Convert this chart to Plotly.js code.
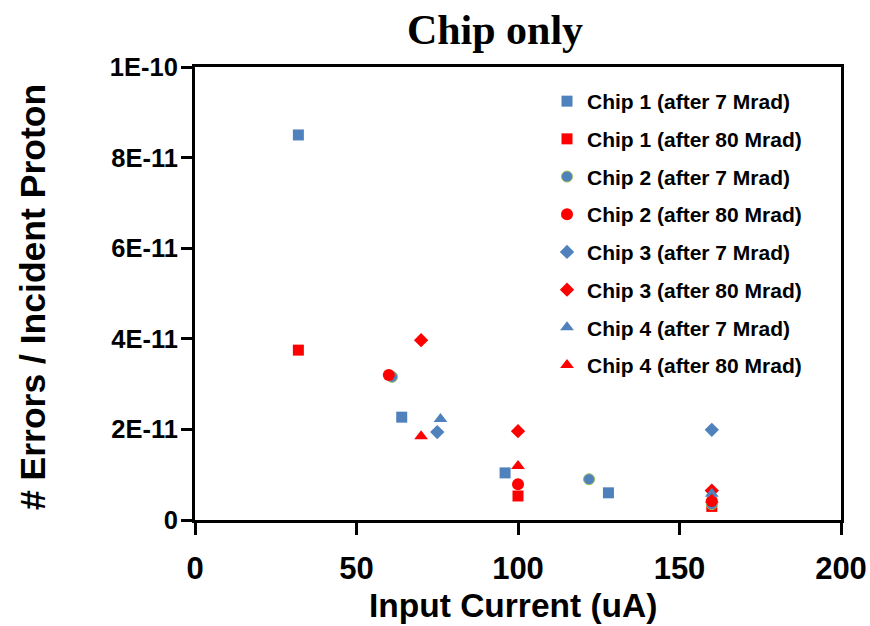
<!DOCTYPE html>
<html>
<head>
<meta charset="utf-8">
<script src="https://cdn.plot.ly/plotly-3.0.1.min.js"></script>
<style>
  html, body { margin: 0; padding: 0; background: #fff; }
  #chart { width: 870px; height: 626px; }
</style>
</head>
<body>
<div id="chart"></div>
<script>
// Input current (uA) and error rate per incident proton, per chip and dose
const chip1_7_x  = [32, 64, 96, 128];
const chip1_7_y  = [8.5e-11, 2.27e-11, 1.04e-11, 0.60e-11];
const chip1_80_x = [32, 100, 160];
const chip1_80_y = [3.75e-11, 0.53e-11, 0.30e-11];
const chip2_7_x  = [61, 122, 160];
const chip2_7_y  = [3.16e-11, 0.90e-11, 0.35e-11];
const chip2_80_x = [60, 100, 160];
const chip2_80_y = [3.20e-11, 0.79e-11, 0.42e-11];
const chip3_7_x  = [75, 160];
const chip3_7_y  = [1.94e-11, 1.99e-11];
const chip3_80_x = [70, 100, 160];
const chip3_80_y = [3.97e-11, 1.96e-11, 0.65e-11];
const chip4_7_x  = [76, 160];
const chip4_7_y  = [2.23e-11, 0.58e-11];
const chip4_80_x = [70, 100, 160];
const chip4_80_y = [1.85e-11, 1.19e-11, 0.45e-11];

const seriesNames = [
  'Chip 1 (after 7 Mrad)', 'Chip 1 (after 80 Mrad)',
  'Chip 2 (after 7 Mrad)', 'Chip 2 (after 80 Mrad)',
  'Chip 3 (after 7 Mrad)', 'Chip 3 (after 80 Mrad)',
  'Chip 4 (after 7 Mrad)', 'Chip 4 (after 80 Mrad)'
];

const yTickVals = [0, 2e-11, 4e-11, 6e-11, 8e-11, 1e-10];
const yTickText = ['0', '2E-11', '4E-11', '6E-11', '8E-11', '1E-10'];
const xTickVals = [0, 50, 100, 150, 200];

const xTitle = 'Input Current (uA)';
const yTitle = '# Errors / Incident Proton';

const BLUE = '#4F81BD';
const RED = '#FF0000';

function series(i, xs, ys, symbol, color, size, lineColor) {
  return {
    type: 'scatter', mode: 'markers',
    name: seriesNames[i], legendgroup: 'g' + i,
    x: xs, y: ys,
    marker: {
      symbol: symbol, color: color, size: size,
      line: { width: lineColor ? 1 : 0, color: lineColor || color }
    },
    hoverinfo: 'x+y+name'
  };
}

const data = [
  series(0, chip1_7_x, chip1_7_y, 'square', BLUE, 11),
  series(1, chip1_80_x, chip1_80_y, 'square', RED, 11),
  series(2, chip2_7_x, chip2_7_y, 'circle', BLUE, 11, '#9BBB59'),
  series(3, chip2_80_x, chip2_80_y, 'circle', RED, 12),
  series(4, chip3_7_x, chip3_7_y, 'diamond', BLUE, 11),
  series(5, chip3_80_x, chip3_80_y, 'diamond', RED, 11),
  series(6, chip4_7_x, chip4_7_y, 'triangle-up', BLUE, 12),
  series(7, chip4_80_x, chip4_80_y, 'triangle-up', RED, 12)
];

const sans = 'Arial, "Liberation Sans", sans-serif';

// plot box: 195..841 px horizontally, 67..520 px vertically
const L = 195, R = 29, T = 67, B = 106;
const PW = 870 - L - R, PH = 626 - T - B;

const layout = {
  width: 870, height: 626,
  margin: { l: L, r: R, t: T, b: B, pad: 0 },
  paper_bgcolor: '#ffffff', plot_bgcolor: '#ffffff',
  showlegend: true,
  title: {
    text: '<b>Chip only</b>',
    font: { family: '"Times New Roman", "Liberation Serif", serif', size: 42, color: '#000' },
    x: 495 / 870, xref: 'container', xanchor: 'center',
    y: 1 - 29 / 626, yref: 'container', yanchor: 'middle'
  },
  xaxis: {
    range: [0, 200], tickvals: xTickVals,
    showgrid: false, zeroline: false,
    showline: true, linecolor: '#000', linewidth: 3, mirror: true,
    ticks: 'outside', ticklen: 12, tickwidth: 3, tickcolor: '#000',
    tickfont: { family: sans, size: 31, color: '#000', weight: 'bold' },
    ticklabelstandoff: 7, ticklabeloverflow: 'allow',
    automargin: false
  },
  yaxis: {
    range: [0, 1e-10], tickvals: yTickVals, ticktext: yTickText,
    showgrid: false, zeroline: false,
    showline: true, linecolor: '#000', linewidth: 3, mirror: true,
    ticks: 'outside', ticklen: 11, tickwidth: 3, tickcolor: '#000',
    tickfont: { family: sans, size: 25.5, color: '#000', weight: 'bold' },
    ticklabelstandoff: -2, ticklabeloverflow: 'allow',
    automargin: false
  },
  annotations: [
    {
      text: '<b>' + xTitle + '</b>', showarrow: false,
      xref: 'paper', yref: 'paper',
      x: (512.5 - L) / PW, y: (520 - 626) / PH,
      xanchor: 'center', yanchor: 'bottom',
      font: { family: sans, size: 33.5, color: '#000' }
    },
    {
      text: '<b>' + yTitle + '</b>', showarrow: false, textangle: -90,
      xref: 'paper', yref: 'paper',
      x: (33 - L) / PW, y: (520 - 297) / PH,
      xanchor: 'center', yanchor: 'middle',
      font: { family: sans, size: 35.5, color: '#000' }
    }
  ],
  legend: {
    x: (547 - L) / PW, xanchor: 'left',
    y: 1 - (81 - T) / PH, yanchor: 'top',
    traceorder: 'grouped', tracegroupgap: 7.4,
    font: { family: sans, size: 21, color: '#000', weight: 'bold' },
    bgcolor: 'rgba(0,0,0,0)', borderwidth: 0
  }
};

Plotly.newPlot('chart', data, layout, { displayModeBar: false, staticPlot: true });
</script>
</body>
</html>
